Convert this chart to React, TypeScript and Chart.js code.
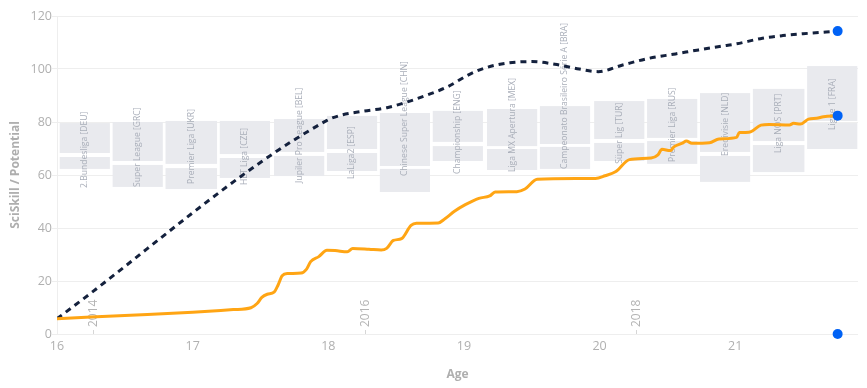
import React, { useEffect, useRef } from "react";
import { Chart, registerables } from "chart.js";

Chart.register(...registerables);

// ---- data ----
const skillAges = [16.0, 16.5, 17.0, 17.3, 17.43, 17.475, 17.51, 17.55, 17.6, 17.63, 17.66, 17.7, 17.8, 17.84, 17.87, 17.93, 17.99, 18.05, 18.14, 18.18, 18.3, 18.39, 18.43, 18.48, 18.54, 18.61, 18.65, 18.81, 18.86, 18.93, 19.01, 19.11, 19.19, 19.23, 19.39, 19.45, 19.54, 19.97, 20.04, 20.12, 20.22, 20.38, 20.43, 20.46, 20.52, 20.55, 20.61, 20.64, 20.68, 20.81, 20.88, 21.01, 21.03, 21.1, 21.19, 21.25, 21.4, 21.43, 21.48, 21.54, 21.6, 21.65, 21.755];
const skillValues = [5.8, 7.0, 8.2, 9.2, 9.9, 11.5, 13.8, 15.0, 15.8, 18.5, 22.0, 22.8, 23.0, 24.5, 27.3, 29.2, 31.6, 31.5, 31.0, 32.3, 32.0, 31.7, 32.3, 35.3, 36.0, 41.0, 41.8, 41.9, 43.5, 46.3, 48.8, 51.2, 52.1, 53.6, 53.7, 54.7, 58.4, 58.7, 59.7, 61.3, 65.8, 66.4, 67.6, 69.7, 69.2, 70.7, 72.0, 72.8, 72.0, 72.2, 73.6, 74.2, 76.0, 76.1, 78.8, 79.1, 78.9, 79.5, 79.2, 81.1, 81.4, 82.0, 82.4];

const potentialAges = [16.0, 17.99, 18.09, 18.25, 18.44, 18.59, 18.73, 18.88, 19.03, 19.15, 19.3, 19.5, 19.67, 19.85, 19.99, 20.17, 20.36, 20.56, 20.73, 20.9, 21.0, 21.2, 21.35, 21.5, 21.755];
const potentialValues = [5.8, 80.6, 82.5, 84.0, 85.5, 87.7, 90.2, 93.3, 97.7, 100.3, 102.1, 102.8, 101.8, 100.0, 99.0, 101.5, 104.0, 105.7, 107.2, 108.6, 109.4, 111.6, 112.6, 113.3, 114.3];

const endAges = [21.755, 21.755, 21.755];
const endValues = [114.3, 82.4, 0];

const leagueNames = ["2.Bundesliga [DEU]", "Super League [GRC]", "Premier Liga [UKR]", "HET Liga [CZE]", "Jupiler Pro League [BEL]", "LaLiga2 [ESP]", "Chinese Super League [CHN]", "Championship [ENG]", "Liga MX Apertura [MEX]", "Campeonato Brasileiro Série A [BRA]", "Süper Lig [TUR]", "Premier Liga [RUS]", "Eredivisie [NLD]", "Liga NOS [PRT]", "Ligue 1 [FRA]"];
const leagueStart = [16.02, 16.41, 16.8, 17.2, 17.6, 17.99, 18.38, 18.77, 19.17, 19.56, 19.96, 20.35, 20.74, 21.13, 21.53];
const leagueEnd = [16.39, 16.78, 17.18, 17.57, 17.97, 18.36, 18.75, 19.14, 19.54, 19.93, 20.33, 20.72, 21.11, 21.51, 21.9];
const upperTop = [79.6, 80.0, 80.4, 80.4, 81.1, 82.3, 83.4, 84.2, 84.9, 86.0, 87.9, 88.7, 90.9, 92.5, 101.1];
const upperBottom = [68.3, 65.3, 64.2, 67.9, 68.7, 69.8, 63.4, 72.5, 70.9, 71.7, 73.6, 74.0, 68.7, 72.8, 80.4];
const lowerTop = [66.8, 63.8, 62.6, 66.4, 67.2, 68.3, 62.3, 70.9, 69.8, 70.6, 72.1, 72.8, 67.2, 71.3, 79.6];
const lowerBottom = [62.3, 55.5, 54.7, 58.9, 59.6, 61.5, 53.6, 65.3, 61.9, 62.3, 65.3, 64.2, 57.4, 61.1, 69.8];
const labelBase = [55.1, 55.5, 56.6, 56.2, 57.0, 58.5, 59.6, 60.4, 61.1, 62.3, 64.2, 64.9, 67.2, 68.3, 77.0];

const yearLabels = ["2014", "2016", "2018"];
const yearAges = [16.266, 18.269, 20.272];

const xTicks = [16, 17, 18, 19, 20, 21];
const yTicks = [0, 20, 40, 60, 80, 100, 120];

const FONT = "'Open Sans', sans-serif";

const leaguePlugin = {
  id: "leagues",
  beforeDatasetsDraw(chart: any) {
    const { ctx, scales, chartArea } = chart;
    const x = scales.x;
    const y = scales.y;
    ctx.save();
    ctx.fillStyle = "#e9eaee";
    for (let i = 0; i < leagueNames.length; i++) {
      const x0 = x.getPixelForValue(leagueStart[i]);
      const x1 = x.getPixelForValue(leagueEnd[i]);
      const a = y.getPixelForValue(upperTop[i]);
      const b = y.getPixelForValue(upperBottom[i]);
      const c = y.getPixelForValue(lowerTop[i]);
      const d = y.getPixelForValue(lowerBottom[i]);
      ctx.fillRect(x0, a, x1 - x0, b - a);
      ctx.fillRect(x0, c, x1 - x0, d - c);
    }
    ctx.fillStyle = "#a9aeb9";
    ctx.font = `8.6px ${FONT}`;
    ctx.textAlign = "left";
    ctx.textBaseline = "middle";
    for (let i = 0; i < leagueNames.length; i++) {
      const cx = (x.getPixelForValue(leagueStart[i]) + x.getPixelForValue(leagueEnd[i])) / 2;
      const by = y.getPixelForValue(labelBase[i]);
      ctx.save();
      ctx.translate(cx, by);
      ctx.rotate(-Math.PI / 2);
      ctx.fillText(leagueNames[i], 0, 0);
      ctx.restore();
    }
    // year markers
    ctx.font = `12px ${FONT}`;
    ctx.fillStyle = "#b4b4b4";
    ctx.strokeStyle = "#d6d6d6";
    ctx.lineWidth = 1;
    for (let i = 0; i < yearLabels.length; i++) {
      const px = Math.round(x.getPixelForValue(yearAges[i])) + 0.5;
      ctx.beginPath();
      ctx.moveTo(px, chartArea.bottom - 4);
      ctx.lineTo(px, chartArea.bottom);
      ctx.stroke();
      ctx.save();
      ctx.translate(px, chartArea.bottom - 7);
      ctx.rotate(-Math.PI / 2);
      ctx.fillText(yearLabels[i], 0, 0);
      ctx.restore();
    }
    ctx.restore();
  },
  afterDraw(chart: any) {
    const { ctx, chartArea } = chart;
    ctx.save();
    ctx.fillStyle = "#aeaeae";
    ctx.textAlign = "center";
    ctx.textBaseline = "middle";
    ctx.font = `bold 12px ${FONT}`;
    ctx.fillText("Age", (chartArea.left + chartArea.right) / 2, 375);
    ctx.save();
    ctx.translate(16, (chartArea.top + chartArea.bottom) / 2);
    ctx.rotate(-Math.PI / 2);
    ctx.font = `bold 12px ${FONT}`;
    ctx.fillText("SciSkill / Potential", 0, 0);
    ctx.restore();
    ctx.restore();
  },
};

export default function App() {
  const ref = useRef<HTMLCanvasElement>(null);
  useEffect(() => {
    if (!ref.current) return;
    const chart = new Chart(ref.current, {
      type: "line",
      data: {
        datasets: [
          {
            label: "Potential",
            data: potentialAges.map((a, i) => ({ x: a, y: potentialValues[i] })),
            borderColor: "#14213d",
            borderWidth: 3,
            borderDash: [6, 5],
            pointRadius: 0,
            cubicInterpolationMode: "monotone",
            fill: false,
            order: 2,
          },
          {
            label: "SciSkill",
            data: skillAges.map((a, i) => ({ x: a, y: skillValues[i] })),
            borderColor: "#ffa514",
            borderWidth: 3,
            pointRadius: 0,
            cubicInterpolationMode: "monotone",
            fill: false,
            order: 1,
          },
          {
            label: "End",
            data: endAges.map((a, i) => ({ x: a, y: endValues[i] })),
            showLine: false,
            pointRadius: 5,
            pointBackgroundColor: "#0062f5",
            pointBorderColor: "#0062f5",
            pointBorderWidth: 0,
            clip: false as any,
            order: 0,
          },
        ],
      },
      options: {
        animation: false,
        responsive: false,
        devicePixelRatio: 1,
        layout: { padding: { left: 0, right: 9, top: 16, bottom: 0 } },
        plugins: { legend: { display: false }, tooltip: { enabled: false } },
        scales: {
          x: {
            type: "linear",
            min: 16,
            max: 21.905,
            afterFit: (s: any) => { s.height = 54; },
            afterBuildTicks: (s: any) => { s.ticks = xTicks.map((v) => ({ value: v })); },
            grid: { display: false, drawTicks: false, tickLength: 0 },
            border: { display: false },
            ticks: { color: "#b0b0b0", font: { family: FONT, size: 12.5 }, padding: 5, maxRotation: 0 },
          },
          y: {
            min: 0,
            max: 120,
            afterFit: (s: any) => { s.width = 57; },
            afterBuildTicks: (s: any) => { s.ticks = yTicks.map((v) => ({ value: v })); },
            grid: { color: "#eeeeee", tickLength: 5, lineWidth: 1 },
            border: { display: true, color: "#eeeeee" },
            ticks: { color: "#b0b0b0", font: { family: FONT, size: 12.5 }, padding: 0 },
          },
        },
      },
      plugins: [leaguePlugin],
    } as any);
    return () => chart.destroy();
  }, []);
  return (
    <div style={{ position: "absolute", left: 0, top: 0, width: 867, height: 388, background: "#fff" }}>
      <canvas ref={ref} width={867} height={388} style={{ display: "block" }} />
    </div>
  );
}
